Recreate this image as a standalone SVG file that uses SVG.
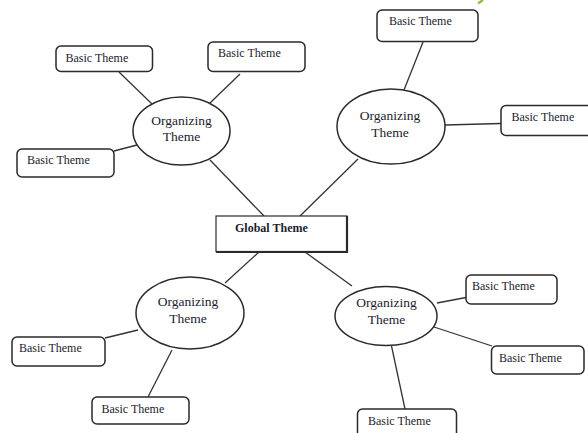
<svg xmlns="http://www.w3.org/2000/svg" width="588" height="433" viewBox="0 0 588 433">
<style>
.bx{fill:#fff;stroke:#2a2a2a;stroke-width:1.5}
.el{fill:#fff;stroke:#2a2a2a;stroke-width:1.5}
.ln{stroke:#333;stroke-width:1.3;fill:none}
.t{font-family:"Liberation Serif",serif;font-size:12px;fill:#1c1c30}
.o{font-family:"Liberation Serif",serif;font-size:13.5px;fill:#1c1c30;text-anchor:middle}
.g{font-family:"Liberation Serif",serif;font-size:12px;font-weight:bold;fill:#1c1c30}
</style>
<rect width="588" height="433" fill="#fff"/>
<path d="M478 3.5 L483 0" stroke="#8cc63f" stroke-width="2.5" fill="none"/>
<g id="connectors">
<line class="ln" x1="119" y1="72" x2="152" y2="104"/>
<line class="ln" x1="240" y1="74" x2="210" y2="103"/>
<line class="ln" x1="114" y1="151" x2="137" y2="145"/>
<line class="ln" x1="210" y1="160" x2="264" y2="216"/>
<line class="ln" x1="423" y1="42" x2="404" y2="90"/>
<line class="ln" x1="445" y1="125" x2="501" y2="123.5"/>
<line class="ln" x1="358" y1="159" x2="300" y2="216"/>
<line class="ln" x1="259" y1="252" x2="225" y2="283"/>
<line class="ln" x1="105" y1="338" x2="138" y2="330"/>
<line class="ln" x1="148" y1="397" x2="172" y2="350"/>
<line class="ln" x1="305" y1="252" x2="352" y2="286"/>
<line class="ln" x1="437" y1="303" x2="466" y2="297.5"/>
<line class="ln" x1="434" y1="327" x2="492" y2="346"/>
<line class="ln" x1="391.5" y1="346" x2="405" y2="409"/>
</g>
<g id="global">
<rect x="216" y="216" width="131" height="35.5" fill="#fff" stroke="#2a2a2a" stroke-width="1.2"/>
<path d="M347 216 V252 H216" stroke="#2a2a2a" stroke-width="2.2" fill="none"/>
<text class="g" x="235" y="231.5">Global Theme</text>
</g>
<g id="org-tl">
<ellipse class="el" cx="181.5" cy="131" rx="48.5" ry="34"/>
<text class="o" x="181.5" y="124.5">Organizing</text>
<text class="o" x="181.5" y="141">Theme</text>
</g>
<g id="org-tr">
<ellipse class="el" cx="391" cy="126.5" rx="54" ry="37.5"/>
<text class="o" x="390" y="120">Organizing</text>
<text class="o" x="390" y="137">Theme</text>
</g>
<g id="org-bl">
<ellipse class="el" cx="190" cy="313" rx="54" ry="36"/>
<text class="o" x="188" y="306">Organizing</text>
<text class="o" x="188" y="323">Theme</text>
</g>
<g id="org-br">
<ellipse class="el" cx="386" cy="316" rx="51" ry="29.5"/>
<text class="o" x="386.5" y="307">Organizing</text>
<text class="o" x="386.5" y="323.5">Theme</text>
</g>
<g id="b-tl1"><rect class="bx" x="56" y="46" width="96.5" height="25.5" rx="5"/><text class="t" x="65.5" y="61.5">Basic Theme</text></g>
<g id="b-tl2"><rect class="bx" x="208" y="42" width="97" height="29.5" rx="5"/><text class="t" x="218" y="57">Basic Theme</text></g>
<g id="b-tl3"><rect class="bx" x="17" y="149" width="97" height="28" rx="5"/><text class="t" x="27" y="164">Basic Theme</text></g>
<g id="b-tr1"><rect class="bx" x="377" y="10" width="101" height="31.5" rx="5"/><text class="t" x="389" y="25">Basic Theme</text></g>
<g id="b-tr2"><rect class="bx" x="501" y="105.5" width="95" height="30" rx="5"/><text class="t" x="511.5" y="121">Basic Theme</text></g>
<g id="b-bl1"><rect class="bx" x="12" y="337" width="93" height="29" rx="5"/><text class="t" x="19" y="352">Basic Theme</text></g>
<g id="b-bl2"><rect class="bx" x="92" y="397" width="97" height="27" rx="5"/><text class="t" x="101.5" y="413">Basic Theme</text></g>
<g id="b-br1"><rect class="bx" x="466" y="275" width="91" height="29" rx="5"/><text class="t" x="472" y="290">Basic Theme</text></g>
<g id="b-br2"><rect class="bx" x="491.5" y="346" width="92.5" height="28" rx="5"/><text class="t" x="499" y="362">Basic Theme</text></g>
<g id="b-br3"><rect class="bx" x="357.5" y="409" width="99" height="35" rx="5"/><text class="t" x="368" y="424.5">Basic Theme</text></g>
</svg>
